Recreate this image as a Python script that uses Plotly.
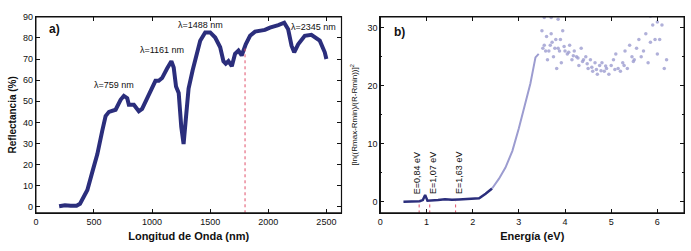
import plotly.graph_objects as go

# Panel a: reflectance spectrum
wl_nm = [200, 250, 300, 350, 380, 400, 443, 486, 529, 571, 600, 629, 686, 729, 757, 786, 800, 843,
         886, 914, 971, 1029, 1057, 1086, 1129, 1166, 1186, 1206, 1229, 1251, 1271, 1286, 1314, 1349,
         1386, 1414, 1457, 1500, 1543, 1586, 1614, 1634, 1657, 1686, 1714, 1743, 1771, 1806, 1843,
         1886, 1971, 2014, 2086, 2137, 2171, 2200, 2223, 2257, 2314, 2371, 2443, 2486, 2500]
refl = [0.3, 0.8, 0.6, 0.6, 1.5, 3.4, 8.0, 16.6, 25.0, 36.0, 43.0, 45.0, 46.0, 50.7, 52.6, 51.5, 48.4, 48.4,
        45.3, 46.4, 53.0, 59.7, 59.7, 61.0, 65.5, 69.0, 66.0, 57.0, 54.0, 38.0, 29.8, 40.0, 56.0, 64.7,
        72.5, 78.7, 82.6, 82.6, 80.2, 75.6, 69.0, 67.8, 69.0, 66.6, 72.5, 74.0, 71.7, 77.0, 81.0,
        83.0, 83.8, 84.9, 86.1, 87.2, 84.1, 76.3, 73.2, 77.0, 81.0, 81.5, 78.7, 73.2, 70.0]
peak_labels = ["λ=759 nm", "λ=1161 nm", "λ=1488 nm", "λ=2345 nm"]
peak_label_x = [670, 1086, 1414, 2386]
peak_label_y = [57.7, 74.3, 86.0, 85.0]
cut_wl = 1800
cut_top = 75

# Panel b: transformed reflectance vs energy
e_low = [0.5, 0.7, 0.85, 0.92, 0.97, 1.02, 1.1, 1.25, 1.4, 1.55, 1.7, 1.85, 2.0, 2.05, 2.14, 2.28, 2.42]
f_low = [0.0, 0.0, 0.1, 0.3, 1.2, 0.2, 0.2, 0.3, 0.45, 0.35, 0.4, 0.45, 0.5, 0.5, 0.6, 1.4, 2.3]
e_rise = [2.42, 2.57, 2.71, 2.86, 3.0, 3.14, 3.25, 3.36, 3.43]
f_rise = [2.3, 4.0, 5.9, 8.8, 12.7, 17.0, 20.4, 24.9, 25.5]
e_scat = [3.5, 3.55, 3.6, 3.62, 3.65, 3.7, 3.72, 3.75, 3.8, 3.82, 3.85, 3.9, 3.92, 3.95, 4.0, 4.05, 4.1,
          4.15, 4.2, 4.25, 4.3, 4.35, 4.4, 4.45, 4.5, 4.55, 4.6, 4.65, 4.7, 4.75, 4.8, 4.85, 4.9, 4.95,
          5.0, 5.05, 5.1, 5.15, 5.2, 5.25, 5.3, 5.35, 5.4, 5.45, 5.5, 5.55, 5.6, 5.65, 5.7, 5.75, 5.8,
          5.85, 5.9, 5.95, 6.0, 6.05, 6.1, 6.15, 6.2, 3.55, 3.7, 3.85, 5.85, 6.0,
          3.52, 3.58, 3.68, 3.78, 3.88, 3.98, 4.08, 4.18, 4.28, 4.38, 4.48, 4.58, 4.68, 4.78, 4.88, 5.08, 5.28, 5.48]
f_scat = [29.5, 27.0, 28.5, 24.5, 26.0, 29.0, 27.5, 25.0, 28.0, 23.0, 26.5, 28.0, 24.0, 29.5, 26.0, 25.5, 27.0,
          24.5, 26.0, 25.0, 23.5, 26.5, 24.5, 25.0, 23.0, 24.5, 22.5, 24.0, 22.0, 23.5, 24.0, 22.5, 23.0, 22.0,
          23.5, 24.5, 25.5, 23.0, 22.5, 24.0, 26.0, 23.0, 27.0, 25.0, 24.5, 26.5, 28.0, 25.0, 26.0, 29.0, 24.0,
          27.5, 30.5, 28.0, 25.5, 28.0, 30.5, 23.0, 24.5, 31.8, 31.8, 31.5, 32.0, 31.0,
          26.5, 26.0, 27.0, 26.5, 26.0, 26.8, 25.8, 25.2, 24.8, 24.2, 23.8, 23.2, 22.8, 22.6, 23.4, 22.8, 23.5, 24.2]
gap_labels = ["E=0,84 eV", "E=1,07 eV", "E=1,63 eV"]
gap_label_x = [0.80, 1.14, 1.70]
gap_x = [0.84, 1.07, 1.63]

navy = "#2b2e7c"
light = "#9c9cd0"
red = "#e0506a"
ink = "#111111"
FONT = "Liberation Sans, Arial"

dom_xa = [0.0478, 0.492]
dom_xb = [0.5485, 0.990]
dom_y = [0.155, 0.952]

fig = go.Figure()
fig.add_trace(go.Scatter(x=wl_nm, y=refl, mode="lines", line=dict(color=navy, width=4),
                         xaxis="x", yaxis="y", showlegend=False))
fig.add_trace(go.Scatter(x=[cut_wl, cut_wl], y=[-3, cut_top], mode="lines",
                         line=dict(color=red, width=1, dash="dot"), xaxis="x", yaxis="y", showlegend=False))
fig.add_trace(go.Scatter(x=e_low, y=f_low, mode="lines", line=dict(color=navy, width=2.5),
                         xaxis="x2", yaxis="y2", showlegend=False))
fig.add_trace(go.Scatter(x=e_rise, y=f_rise, mode="lines", line=dict(color=light, width=2),
                         xaxis="x2", yaxis="y2", showlegend=False))
fig.add_trace(go.Scatter(x=e_scat, y=f_scat, mode="markers",
                         marker=dict(color=light, size=3.5, opacity=0.8),
                         xaxis="x2", yaxis="y2", showlegend=False))
for gx in gap_x:
    fig.add_trace(go.Scatter(x=[gx, gx], y=[-2, 0.1], mode="lines",
                             line=dict(color=red, width=1, dash="dot"),
                             xaxis="x2", yaxis="y2", showlegend=False))

tickfont = dict(family=FONT, size=9, color=ink)
axcommon = dict(showgrid=False, zeroline=False, showline=True, linecolor=ink, linewidth=1.2,
                mirror="allticks", ticks="inside", ticklen=4, tickwidth=1.3, tickcolor=ink, tickfont=tickfont,
                minor=dict(ticks="inside", ticklen=2, tickcolor=ink, nticks=2))

fig.update_layout(
    width=691, height=251, margin=dict(l=0, r=0, t=0, b=0),
    paper_bgcolor="white", plot_bgcolor="white",
    xaxis=dict(domain=dom_xa, range=[0, 2630], tickvals=[0, 500, 1000, 1500, 2000, 2500],
               anchor="y",
               title=dict(text="<b>Longitud de Onda (nm)</b>", font=dict(family=FONT, size=11, color=ink), standoff=6),
               **axcommon),
    yaxis=dict(domain=dom_y, range=[-2.8, 90], tickvals=list(range(0, 91, 10)), anchor="x",
               title=dict(text="<b>Reflectancia (%)</b>", font=dict(family=FONT, size=10, color=ink), standoff=4),
               **axcommon),
    xaxis2=dict(domain=dom_xb, range=[0, 6.58], tickvals=[0, 1, 2, 3, 4, 5, 6], anchor="y2",
                title=dict(text="<b>Energía (eV)</b>", font=dict(family=FONT, size=11, color=ink), standoff=6),
                **axcommon),
    yaxis2=dict(domain=dom_y, range=[-1.9, 31.9], tickvals=[0, 10, 20, 30], anchor="x2",
                title=dict(text="[ln((Rmax-Rmin)/(R-Rmin))]<sup>2</sup>", font=dict(family=FONT, size=8, color=ink), standoff=8),
                **axcommon),
)

shapes = []
for dx in (dom_xa, dom_xb):
    shapes.append(dict(type="rect", xref="paper", yref="paper", x0=dx[0], x1=dx[1], y0=dom_y[0], y1=dom_y[1],
                       line=dict(color=ink, width=1.2), fillcolor="rgba(0,0,0,0)", layer="above"))
fig.update_layout(shapes=shapes)

annots = []
for t, x, y in zip(peak_labels, peak_label_x, peak_label_y):
    annots.append(dict(x=x, y=y, xref="x", yref="y", text=t, showarrow=False,
                       font=dict(family=FONT, size=9, color=ink)))
annots.append(dict(x=157, y=84, xref="x", yref="y", text="<b>a)</b>", showarrow=False,
                   font=dict(family=FONT, size=12, color=ink)))
annots.append(dict(x=0.41, y=29.3, xref="x2", yref="y2", text="<b>b)</b>", showarrow=False,
                   font=dict(family=FONT, size=12, color=ink)))
for t, x in zip(gap_labels, gap_label_x):
    annots.append(dict(x=x, y=1.0, xref="x2", yref="y2", text=t, showarrow=False, textangle=-90,
                       yanchor="bottom", font=dict(family=FONT, size=9, color=ink)))
fig.update_layout(annotations=annots)

fig.write_html("out.html", config={"displayModeBar": False},
               post_script="document.body.style.margin='0';document.body.style.padding='0';")
